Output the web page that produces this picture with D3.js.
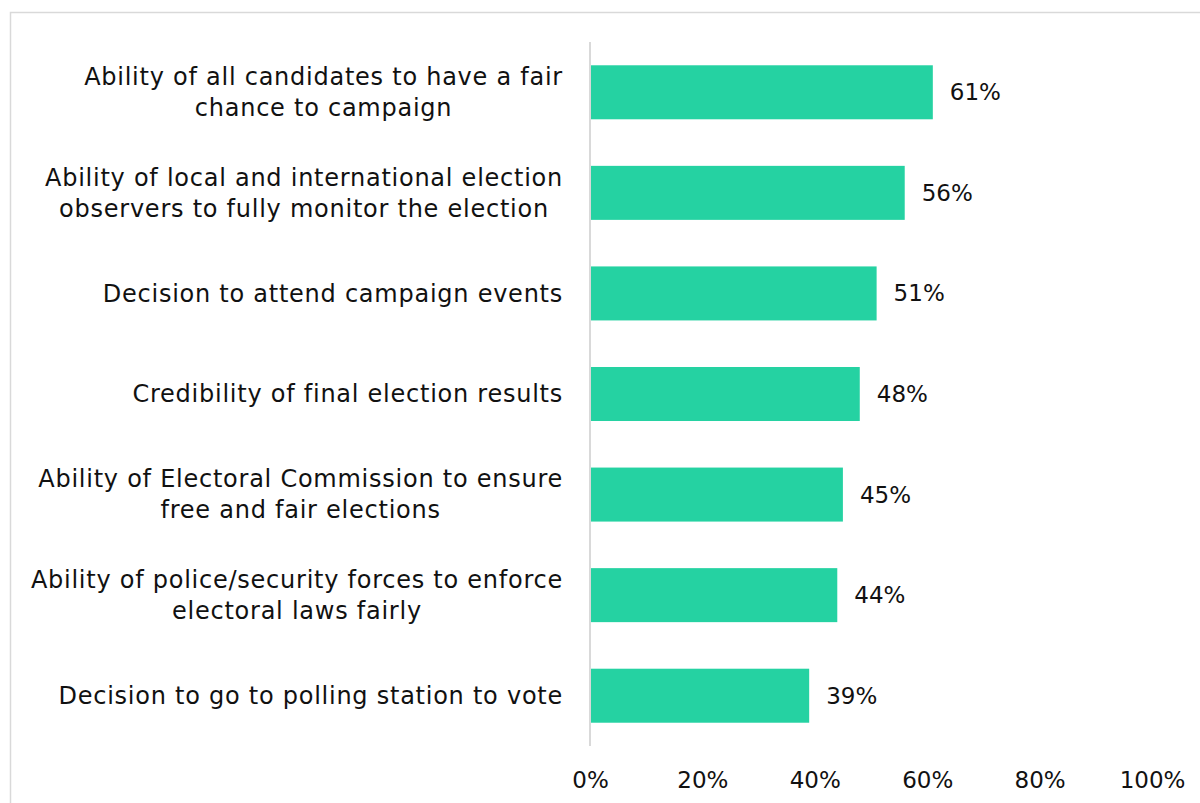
<!DOCTYPE html>
<html>
<head>
<meta charset="utf-8">
<script src="https://cdn.jsdelivr.net/npm/d3@7/dist/d3.min.js"></script>
<style>
  html, body { margin: 0; padding: 0; background: #fff; }
  svg { display: block; }
  text { font-family: "DejaVu Sans", "Open Sans", sans-serif; fill: #111; }
</style>
</head>
<body>
<svg id="chart" width="1200" height="803"></svg>
<script>
// Category labels (each entry is a list of lines) and share of respondents (%)
const categories = [
  ["Ability of all candidates to have a fair", "chance to campaign"],
  ["Ability of local and international election", "observers to fully monitor the election"],
  ["Decision to attend campaign events"],
  ["Credibility of final election results"],
  ["Ability of Electoral Commission to ensure", "free and fair elections"],
  ["Ability of police/security forces to enforce", "electoral laws fairly"],
  ["Decision to go to polling station to vote"]
];
const values = [61, 56, 51, 48, 45, 44, 39];
const tickValues = [0, 20, 40, 60, 80, 100];

const svg = d3.select("#chart");
const W = 1200, H = 803;

// Panel frame (top and left edges visible; continues past the page)
svg.append("rect")
  .attr("x", 10.5).attr("y", 12.5)
  .attr("width", W + 20).attr("height", H + 20)
  .attr("fill", "none")
  .attr("stroke", "#d9d9d9")
  .attr("stroke-width", 1.5);

const plot = { left: 590, right: 1152, top: 42, bottom: 746 };
const numSize = 23;
const labelSize = 24;

const x = d3.scaleLinear().domain([0, 100]).range([plot.left, plot.right]);
const y = d3.scaleBand()
  .domain(d3.range(categories.length))
  .range([plot.top, plot.bottom])
  .paddingInner(0.463)
  .paddingOuter(0.2315);

// Bars
svg.append("g").selectAll("rect")
  .data(values)
  .join("rect")
  .attr("x", x(0) + 1)
  .attr("y", (d, i) => y(i))
  .attr("width", d => x(d) - x(0) - 1)
  .attr("height", y.bandwidth())
  .attr("fill", "#25d2a2");

// Category axis line
svg.append("line")
  .attr("x1", x(0)).attr("x2", x(0))
  .attr("y1", plot.top).attr("y2", plot.bottom)
  .attr("stroke", "#d9d9d9")
  .attr("stroke-width", 2);

// Value labels
svg.append("g").selectAll("text")
  .data(values)
  .join("text")
  .attr("x", d => x(d) + 17)
  .attr("y", (d, i) => y(i) + y.bandwidth() / 2)
  .attr("dy", "0.35em")
  .attr("font-size", numSize)
  .text(d => d + "%");

// Category labels: block right-aligned to the axis, lines centred within the block
const labelRight = 563;
const lineH = 31;
categories.forEach((lines, i) => {
  const cy = y(i) + y.bandwidth() / 2;
  const g = svg.append("g");
  const texts = lines.map((ln, j) => g.append("text")
    .attr("font-size", labelSize)
    .attr("letter-spacing", 0.75)
    .attr("y", cy + (j - (lines.length - 1) / 2) * lineH)
    .attr("dy", "0.35em")
    .attr("text-anchor", "middle")
    .text(ln));
  const maxW = d3.max(texts, t => t.node().getComputedTextLength());
  texts.forEach(t => t.attr("x", labelRight - maxW / 2));
});

// X axis tick labels
const xAxis = d3.axisBottom(x)
  .tickValues(tickValues)
  .tickFormat(d => d + "%")
  .tickSize(0)
  .tickPadding(0);
const ax = svg.append("g")
  .attr("transform", `translate(0, ${780})`)
  .call(xAxis);
ax.select(".domain").remove();
ax.selectAll("text")
  .attr("font-size", numSize)
  .attr("font-family", null)
  .attr("dy", "0.35em")
  .attr("y", 0);
</script>
</body>
</html>
